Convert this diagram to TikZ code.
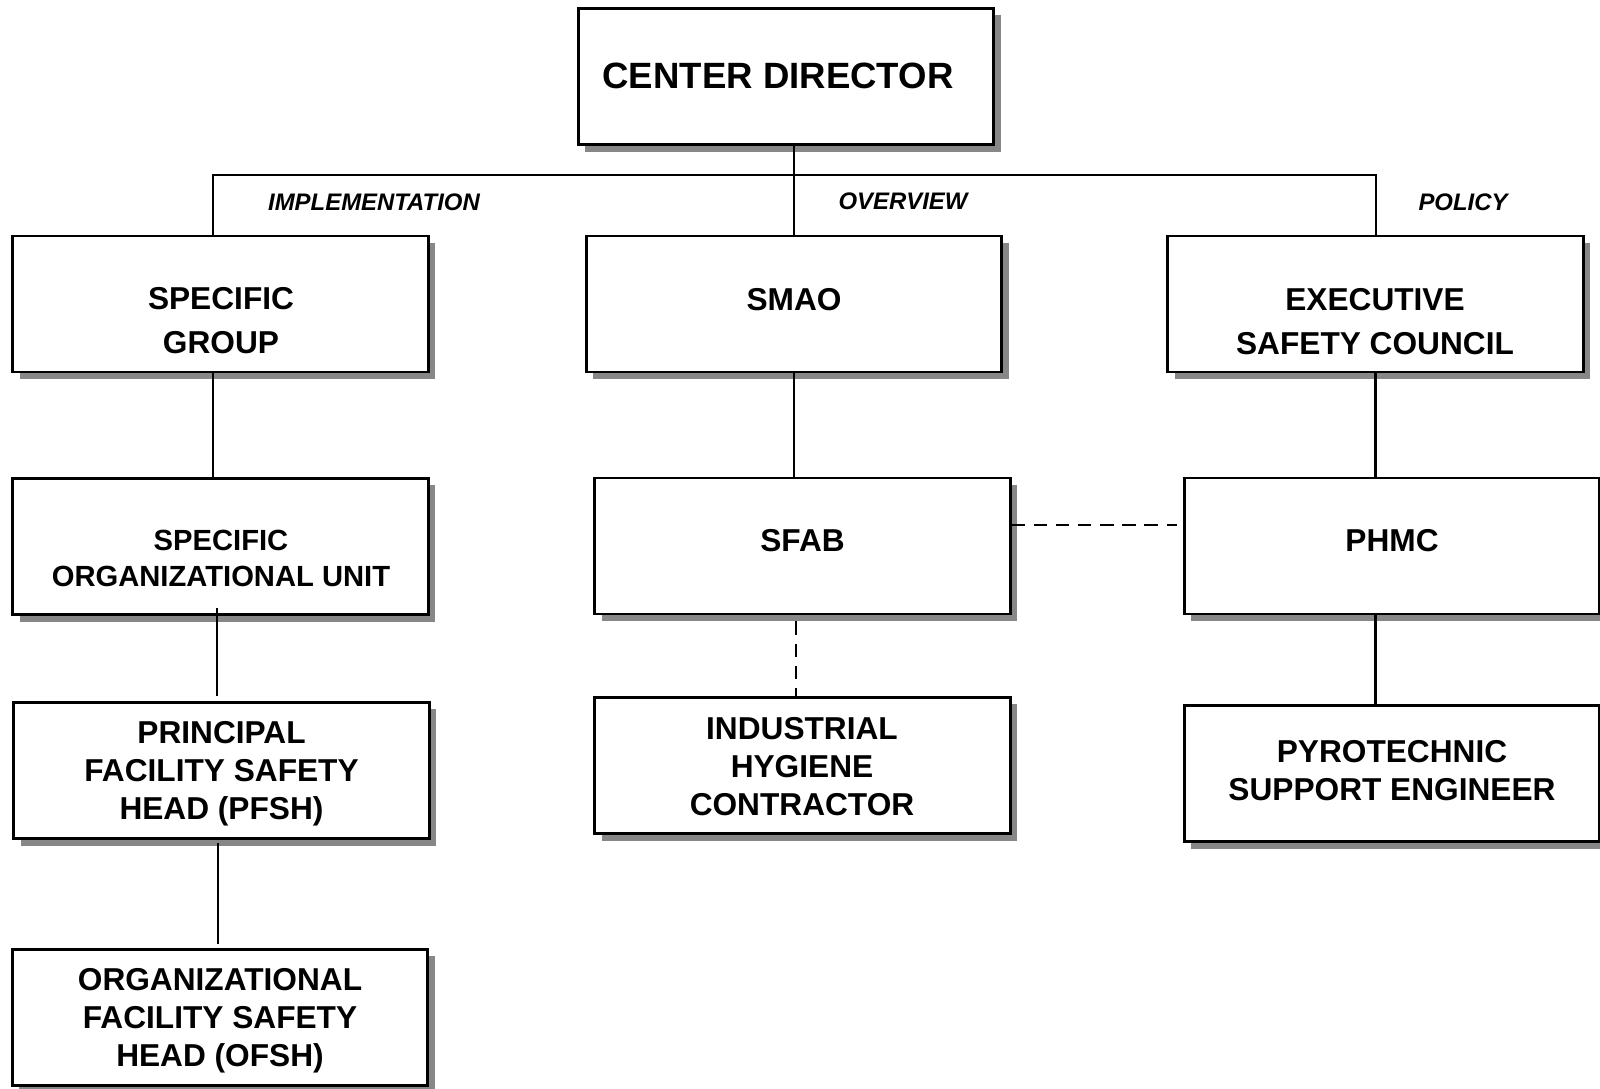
\documentclass[tikz,border=0pt]{standalone}
\usepackage{fontspec}
\setmainfont{Liberation Sans}
\usetikzlibrary{shadows}

\begin{document}
\begin{tikzpicture}[x=0.01cm,y=-0.01cm,
    box/.style={draw, line width=0.8pt, fill=white, minimum width=4.15cm, minimum height=1.36cm, inner sep=0pt,
        drop shadow={shadow xshift=0.07cm, shadow yshift=-0.07cm, fill=black!47, opacity=1}},
    txt/.style={align=center, inner sep=0pt, font=\bfseries\fontsize{9}{10.8}\selectfont},
    txttop/.style={txt, font=\bfseries\fontsize{9}{12.5}\selectfont},
    role/.style={inner sep=0pt, font=\bfseries\itshape\fontsize{6.8}{8}\selectfont},
    link/.style={line width=0.65pt},
    aux/.style={line width=0.55pt, dash pattern=on 3.8pt off 2.5pt}]

    \useasboundingbox (0,0) rectangle (1600,1089);

    % boxes
    \node[box] (cd)   at (786,76.5)   {};
    \node[box] (sg)   at (220.5,304)  {};
    \node[box] (smao) at (794,304)    {};
    \node[box] (esc)  at (1375.5,304) {};
    \node[box] (sou)  at (220.5,546.5) {};
    \node[box] (sfab) at (802.5,546)  {};
    \node[box] (phmc) at (1392,546)   {};
    \node[box] (pfsh) at (221.5,770.5) {};
    \node[box] (ihc)  at (802.5,765.5) {};
    \node[box] (pse)  at (1392,773.5) {};
    \node[box] (ofsh) at (220,1017.5) {};

    % texts
    \node[txt, font=\bfseries\fontsize{10.4}{12}\selectfont] (cd-t) at (778,75.5) {CENTER DIRECTOR};
    \node[txttop] (sg-t)   at (221,321)    {SPECIFIC\\GROUP};
    \node[txt]    (smao-t) at (794,300)    {SMAO};
    \node[txttop] (esc-t)  at (1375,322) {EXECUTIVE\\SAFETY COUNCIL};
    \node[txt, font=\bfseries\fontsize{8.3}{10.2}\selectfont] (sou-t) at (221,558.5) {SPECIFIC\\ORGANIZATIONAL UNIT};
    \node[txt]    (sfab-t) at (802.5,541)  {SFAB};
    \node[txt]    (phmc-t) at (1392,541)   {PHMC};
    \node[txt]    (pfsh-t) at (221.5,774)  {PRINCIPAL\\FACILITY SAFETY\\HEAD (PFSH)};
    \node[txt]    (ihc-t)  at (802,766.5)  {INDUSTRIAL\\HYGIENE\\CONTRACTOR};
    \node[txt]    (pse-t)  at (1392,771)   {PYROTECHNIC\\SUPPORT ENGINEER};
    \node[txt]    (ofsh-t) at (220,1021)   {ORGANIZATIONAL\\FACILITY SAFETY\\HEAD (OFSH)};

    % roles
    \node[role] (impl) at (374,202)  {IMPLEMENTATION};
    \node[role] (over) at (903,201)  {OVERVIEW};
    \node[role] (pol)  at (1463,202) {POLICY};

    % lines
    \coordinate (barL) at (213,175);
    \coordinate (barR) at (1376,175);
    \draw[link] (sg.north -| barL) -- (barL) -- (barR) -- (esc.north -| barR);
    \draw[link] (cd.south -| smao.north) -- (smao.north);
    \draw[link] (sg.south -| barL) -- (sou.north -| barL);
    \draw[link, shorten <=-0.8mm, shorten >=0.5mm] ([xshift=-0.035cm]sou.south) -- ([xshift=-0.035cm]sou.south |- pfsh.north);
    \draw[link, shorten <=0.3mm, shorten >=0.4mm] ([xshift=-0.035cm]pfsh.south) -- ([xshift=-0.035cm]pfsh.south |- ofsh.north);
    \draw[link] (smao.south) -- (smao.south |- sfab.north);
    \draw[aux, shorten <=0.6mm] ([xshift=-0.065cm]sfab.south) -- ([xshift=-0.065cm]sfab.south |- ihc.north);
    \draw[aux, shorten >=0.6mm] ([yshift=0.21cm]sfab.east) -- ([yshift=0.21cm]phmc.west);
    \draw[link] (esc.south) -- (esc.south |- phmc.north);
    \draw[link] (esc.south |- phmc.south) -- (esc.south |- pse.north);

\end{tikzpicture}
\end{document}
